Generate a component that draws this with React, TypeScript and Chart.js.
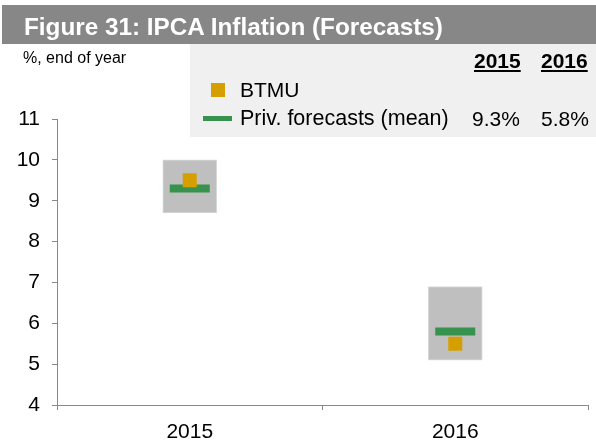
import React, { useEffect, useRef } from "react";
import { Chart, registerables } from "chart.js";

Chart.register(...registerables);

const categories = ["2015", "2016"];
const rangeLow = [8.7, 5.1];
const rangeHigh = [10.0, 6.9];
const btmu = [9.5, 5.5];
const privMean = [9.3, 5.8];
const yMin = 4;
const yMax = 11;
const tableYears = ["2015", "2016"];
const privMeanLabels = ["9.3%", "5.8%"];

const FONT = "'Liberation Sans', Arial, Helvetica, sans-serif";
const AXIS = "#898989";
const GREEN = "#36924c";
const ORANGE = "#d69f00";

export default function App() {
  const ref = useRef<HTMLCanvasElement | null>(null);

  useEffect(() => {
    if (!ref.current) return;
    const chart = new Chart(ref.current, {
      type: "bar",
      data: {
        labels: categories,
        datasets: [
          {
            type: "line",
            label: "BTMU",
            data: btmu,
            showLine: false,
            pointStyle: "rect",
            pointRadius: 7 * Math.SQRT2,
            pointBackgroundColor: ORANGE,
            pointBorderWidth: 0,
            pointBorderColor: ORANGE,
            order: 0,
          } as any,
          {
            type: "line",
            label: "Priv. forecasts (mean)",
            data: privMean,
            showLine: false,
            pointStyle: "line",
            pointRadius: 20,
            pointBorderWidth: 8,
            pointBorderColor: GREEN,
            pointBackgroundColor: GREEN,
            order: 1,
          } as any,
          {
            type: "bar",
            label: "Range",
            data: categories.map((_, i) => [rangeLow[i], rangeHigh[i]]),
            backgroundColor: "#bfbfbf",
            borderColor: "#dadada",
            borderWidth: 1,
            borderSkipped: false,
            barThickness: 54,
            order: 2,
          } as any,
        ],
      },
      options: {
        responsive: false,
        animation: false,
        devicePixelRatio: 1,
        layout: { autoPadding: false, padding: { top: 119, right: 8, left: 0, bottom: 0 } },
        plugins: { legend: { display: false }, tooltip: { enabled: false }, title: { display: false } },
        scales: {
          x: {
            type: "category",
            offset: true,
            grid: { display: true, drawOnChartArea: false, drawTicks: true, tickLength: 5, color: AXIS, offset: true },
            border: { display: true, color: AXIS, width: 1 },
            ticks: { color: "#000", font: { family: FONT, size: 21 }, padding: 10 },
            afterFit: (s: any) => { s.height = 43; },
          },
          y: {
            type: "linear",
            min: yMin,
            max: yMax,
            ticks: { stepSize: 1, color: "#000", font: { family: FONT, size: 21 }, padding: 12 },
            grid: { display: true, drawOnChartArea: false, drawTicks: true, tickLength: 5, color: AXIS },
            border: { display: true, color: AXIS, width: 1 },
            afterFit: (s: any) => { s.width = 57; },
          },
        },
      } as any,
    });
    return () => chart.destroy();
  }, []);

  const abs = (o: React.CSSProperties): React.CSSProperties => ({ position: "absolute", ...o });

  return (
    <div style={{ position: "absolute", left: 0, top: 0, width: 596, height: 448, background: "#fff", fontFamily: FONT }}>
      <canvas ref={ref} width={596} height={448} style={abs({ left: 0, top: 0, width: 596, height: 448 })} />
      <div style={abs({ left: 2, top: 5, width: 594, height: 39, background: "#878787" })} />
      <div style={abs({ left: 24, top: 15, fontSize: 24.3, lineHeight: "24px", fontWeight: "bold", color: "#fff", whiteSpace: "nowrap" })}>
        Figure 31: IPCA Inflation (Forecasts)
      </div>
      <div style={abs({ left: 23, top: 50, fontSize: 16, lineHeight: "16px", color: "#000", whiteSpace: "nowrap" })}>
        %, end of year
      </div>
      <div style={abs({ left: 190, top: 44, width: 406, height: 93, background: "#f0f0f0" })} />
      <div style={abs({ left: 474, top: 50, fontSize: 21, lineHeight: "21px", fontWeight: "bold", textDecoration: "underline", color: "#000" })}>
        {tableYears[0]}
      </div>
      <div style={abs({ left: 541, top: 50, fontSize: 21, lineHeight: "21px", fontWeight: "bold", textDecoration: "underline", color: "#000" })}>
        {tableYears[1]}
      </div>
      <div style={abs({ left: 211, top: 83, width: 14, height: 14, background: ORANGE })} />
      <div style={abs({ left: 240, top: 79, fontSize: 21, lineHeight: "21px", color: "#000", whiteSpace: "nowrap" })}>BTMU</div>
      <div style={abs({ left: 203, top: 116, width: 29, height: 5, background: GREEN })} />
      <div style={abs({ left: 240, top: 108, fontSize: 21.5, lineHeight: "21px", color: "#000", whiteSpace: "nowrap" })}>
        Priv. forecasts (mean)
      </div>
      <div style={abs({ left: 472, top: 108, fontSize: 21, lineHeight: "21px", color: "#000" })}>{privMeanLabels[0]}</div>
      <div style={abs({ left: 541, top: 108, fontSize: 21, lineHeight: "21px", color: "#000" })}>{privMeanLabels[1]}</div>
    </div>
  );
}
